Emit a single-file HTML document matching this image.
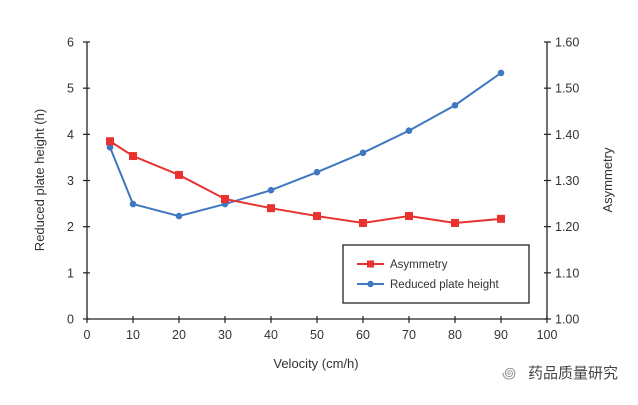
<!DOCTYPE html>
<html><head><meta charset="utf-8"><style>
body{margin:0;background:#fff;width:638px;height:400px;overflow:hidden}
svg{font-family:"Liberation Sans","Noto Sans CJK SC",sans-serif}
</style></head><body>
<svg id="chart" width="638" height="400">
<g id="axes"></g>
<g id="series"></g>
<g>
<rect x="343" y="245" width="186" height="58" fill="#fff" stroke="#222" stroke-width="1.3"/>
<g>
<line x1="357" y1="264" x2="384" y2="264" stroke="#e8322f" stroke-width="2"/>
<rect x="367" y="260.5" width="7" height="7" fill="#e8322f"/>
<text x="390" y="268" font-size="11.5" fill="#333">Asymmetry</text></g>
<g>
<line x1="357" y1="284" x2="384" y2="284" stroke="#3f78c0" stroke-width="2"/>
<circle cx="370.5" cy="284" r="3.2" fill="#3f78c0"/>
<text x="390" y="288" font-size="11.5" fill="#333">Reduced plate height</text></g>
</g>
<text x="44" y="180" font-size="13" fill="#333" text-anchor="middle" transform="rotate(-90 44 180)">Reduced plate height (h)</text>
<text x="612" y="180" font-size="13" fill="#333" text-anchor="middle" transform="rotate(-90 612 180)">Asymmetry</text>
<text x="316" y="368" font-size="13" fill="#333" text-anchor="middle">Velocity (cm/h)</text>
<g>
<text x="502" y="378" font-size="15" fill="#999">꩜</text>
<text x="528" y="378" font-size="15" fill="#444">药品质量研究</text></g>
</svg>
<script>
const velocities=[5,10,20,30,40,50,60,70,80,90];
const plateHeight=[3.72,2.49,2.23,2.49,2.79,3.18,3.6,4.08,4.63,5.33];
const asymmetry=[1.385,1.353,1.312,1.26,1.24,1.223,1.208,1.223,1.208,1.217];
const xTicks=[0,10,20,30,40,50,60,70,80,90,100];
const yLeftTicks=[0,1,2,3,4,5,6];
const yRightTicks=["1.00","1.10","1.20","1.30","1.40","1.50","1.60"];
const X0=87,X1=547,Y0=319,Y1=42;
const sx=v=>X0+(v/100)*(X1-X0);
const syL=v=>Y0-(v/6)*(Y0-Y1);
const syR=v=>Y0-((v-1)/0.6)*(Y0-Y1);
const NS="http://www.w3.org/2000/svg";
function mk(t,a,p){const e=document.createElementNS(NS,t);for(const k in a)e.setAttribute(k,a[k]);p.appendChild(e);return e;}
const ax=document.getElementById('axes'),se=document.getElementById('series');
let e=mk('line',{x1:X0,y1:Y1,x2:X0,y2:Y0,stroke:'#222','stroke-width':1.3},ax);


e=mk('line',{x1:X1,y1:Y1,x2:X1,y2:Y0,stroke:'#222','stroke-width':1.3},ax);


e=mk('line',{x1:X0,y1:Y0,x2:X1,y2:Y0,stroke:'#222','stroke-width':1.3},ax);


xTicks.forEach(v=>{const x=sx(v);
mk('line',{x1:x,y1:Y0-3,x2:x,y2:Y0+4,stroke:'#222','stroke-width':1.2},ax);
const t=mk('text',{x:x,y:Y0+20,'font-size':12.5,fill:'#333','text-anchor':'middle'},ax);t.textContent=v;

});
yLeftTicks.forEach(v=>{const y=syL(v);
mk('line',{x1:X0-4,y1:y,x2:X0+3,y2:y,stroke:'#222','stroke-width':1.2},ax);
const t=mk('text',{x:X0-13,y:y+4.5,'font-size':12.5,fill:'#333','text-anchor':'end'},ax);t.textContent=v;

});
yRightTicks.forEach(v=>{const y=syR(parseFloat(v));
mk('line',{x1:X1-3,y1:y,x2:X1+4,y2:y,stroke:'#222','stroke-width':1.2},ax);
const t=mk('text',{x:X1+8,y:y+4.5,'font-size':12.5,fill:'#333'},ax);t.textContent=v;

});
function series(vals,sy,color,name,square){
const g=mk('g',{},se);


mk('polyline',{points:velocities.map((v,i)=>sx(v)+','+sy(vals[i])).join(' '),fill:'none',stroke:color,'stroke-width':2},g);
velocities.forEach((v,i)=>{let m;
if(square)m=mk('rect',{x:sx(v)-4,y:sy(vals[i])-4,width:8,height:8,fill:color},g);
else m=mk('circle',{cx:sx(v),cy:sy(vals[i]),r:3.3,fill:color},g);

});}
series(plateHeight,syL,'#3f78c0','reduced-plate-height-series',false);
series(asymmetry,syR,'#e8322f','asymmetry-series',true);
</script>
</body></html>
